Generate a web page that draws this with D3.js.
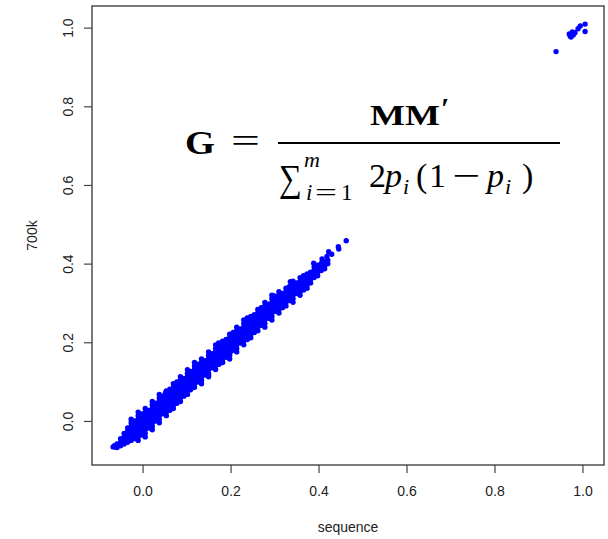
<!DOCTYPE html>
<html><head><meta charset="utf-8">
<script src="https://cdn.jsdelivr.net/npm/d3@7"></script>
<style>
html,body{margin:0;padding:0;background:#fff;}
svg text{font-family:"Liberation Sans",Arial,sans-serif;}
svg .math text{font-family:"Liberation Serif","Times New Roman",serif;fill:#000;}
</style></head>
<body><svg id="chart" width="608" height="539"></svg>
<script>
// ---- data ----
const xTicks = [0.0, 0.2, 0.4, 0.6, 0.8, 1.0];
const yTicks = [0.0, 0.2, 0.4, 0.6, 0.8, 1.0];
const xLabel = "sequence";
const yLabel = "700k";

// dense band of individuals: [sequence, 700k]
const bandPoints = [
[-0.067,-0.066],[-0.063,-0.066],[-0.061,-0.062],
[-0.058,-0.0675],[-0.058,-0.0585],
[-0.050,-0.063],[-0.050,-0.054],[-0.050,-0.045],
[-0.042,-0.0585],[-0.042,-0.0495],[-0.042,-0.0405],[-0.042,-0.0315],
[-0.034,-0.054],[-0.034,-0.045],[-0.034,-0.036],[-0.034,-0.027],[-0.034,-0.018],
[-0.026,-0.0495],[-0.026,-0.0405],[-0.026,-0.0315],[-0.026,-0.0225],[-0.026,-0.0135],[-0.026,-0.0045],
[-0.018,-0.045],[-0.018,-0.036],[-0.018,-0.027],[-0.018,-0.018],[-0.018,-0.009],[-0.018,0.000],
[-0.010,-0.0405],[-0.010,-0.0315],[-0.010,-0.0225],[-0.010,-0.0135],[-0.010,-0.0045],[-0.010,0.0045],[-0.010,0.0135],
[-0.002,-0.036],[-0.002,-0.027],[-0.002,-0.018],[-0.002,-0.009],[-0.002,0.000],[-0.002,0.009],[-0.002,0.018],
[0.006,-0.0315],[0.006,-0.0225],[0.006,-0.0135],[0.006,-0.0045],[0.006,0.0045],[0.006,0.0135],[0.006,0.0225],
[0.014,-0.018],[0.014,-0.009],[0.014,0.000],[0.014,0.009],[0.014,0.018],[0.014,0.027],
[0.022,-0.0135],[0.022,-0.0045],[0.022,0.0045],[0.022,0.0135],[0.022,0.0225],[0.022,0.0315],[0.022,0.0405],
[0.030,0.000],[0.030,0.009],[0.030,0.018],[0.030,0.027],[0.030,0.036],[0.030,0.045],
[0.038,0.0045],[0.038,0.0135],[0.038,0.0225],[0.038,0.0315],[0.038,0.0405],[0.038,0.0495],[0.038,0.0585],
[0.046,0.018],[0.046,0.027],[0.046,0.036],[0.046,0.045],[0.046,0.054],[0.046,0.063],
[0.054,0.0225],[0.054,0.0315],[0.054,0.0405],[0.054,0.0495],[0.054,0.0585],[0.054,0.0675],
[0.062,0.027],[0.062,0.036],[0.062,0.045],[0.062,0.054],[0.062,0.063],[0.062,0.072],[0.062,0.081],
[0.070,0.0405],[0.070,0.0495],[0.070,0.0585],[0.070,0.0675],[0.070,0.0765],[0.070,0.0855],
[0.078,0.045],[0.078,0.054],[0.078,0.063],[0.078,0.072],[0.078,0.081],[0.078,0.090],[0.078,0.099],
[0.086,0.0585],[0.086,0.0675],[0.086,0.0765],[0.086,0.0855],[0.086,0.0945],[0.086,0.1035],
[0.094,0.063],[0.094,0.072],[0.094,0.081],[0.094,0.090],[0.094,0.099],[0.094,0.108],
[0.102,0.0765],[0.102,0.0855],[0.102,0.0945],[0.102,0.1035],[0.102,0.1125],[0.102,0.1215],
[0.110,0.081],[0.110,0.090],[0.110,0.099],[0.110,0.108],[0.110,0.117],[0.110,0.126],
[0.118,0.0945],[0.118,0.1035],[0.118,0.1125],[0.118,0.1215],[0.118,0.1305],[0.118,0.1395],
[0.126,0.099],[0.126,0.108],[0.126,0.117],[0.126,0.126],[0.126,0.135],[0.126,0.144],
[0.134,0.1035],[0.134,0.1125],[0.134,0.1215],[0.134,0.1305],[0.134,0.1395],[0.134,0.1485],
[0.142,0.117],[0.142,0.126],[0.142,0.135],[0.142,0.144],[0.142,0.153],
[0.150,0.1215],[0.150,0.1305],[0.150,0.1395],[0.150,0.1485],[0.150,0.1575],[0.150,0.1665],
[0.158,0.135],[0.158,0.144],[0.158,0.153],[0.158,0.162],[0.158,0.171],
[0.166,0.1395],[0.166,0.1485],[0.166,0.1575],[0.166,0.1665],[0.166,0.1755],[0.166,0.1845],
[0.174,0.144],[0.174,0.153],[0.174,0.162],[0.174,0.171],[0.174,0.180],[0.174,0.189],
[0.182,0.1575],[0.182,0.1665],[0.182,0.1755],[0.182,0.1845],[0.182,0.1935],
[0.190,0.162],[0.190,0.171],[0.190,0.180],[0.190,0.189],[0.190,0.198],[0.190,0.207],
[0.198,0.1665],[0.198,0.1755],[0.198,0.1845],[0.198,0.1935],[0.198,0.2025],[0.198,0.2115],
[0.206,0.180],[0.206,0.189],[0.206,0.198],[0.206,0.207],[0.206,0.216],[0.206,0.225],
[0.214,0.1845],[0.214,0.1935],[0.214,0.2025],[0.214,0.2115],[0.214,0.2205],[0.214,0.2295],
[0.222,0.198],[0.222,0.207],[0.222,0.216],[0.222,0.225],[0.222,0.234],
[0.230,0.2025],[0.230,0.2115],[0.230,0.2205],[0.230,0.2295],[0.230,0.2385],[0.230,0.2475],
[0.238,0.207],[0.238,0.216],[0.238,0.225],[0.238,0.234],[0.238,0.243],[0.238,0.252],
[0.246,0.2205],[0.246,0.2295],[0.246,0.2385],[0.246,0.2475],[0.246,0.2565],
[0.254,0.225],[0.254,0.234],[0.254,0.243],[0.254,0.252],[0.254,0.261],[0.254,0.270],
[0.262,0.2385],[0.262,0.2475],[0.262,0.2565],[0.262,0.2655],[0.262,0.2745],
[0.270,0.243],[0.270,0.252],[0.270,0.261],[0.270,0.270],[0.270,0.279],[0.270,0.288],
[0.278,0.2475],[0.278,0.2565],[0.278,0.2655],[0.278,0.2745],[0.278,0.2835],[0.278,0.2925],
[0.286,0.261],[0.286,0.270],[0.286,0.279],[0.286,0.288],[0.286,0.297],
[0.294,0.2655],[0.294,0.2745],[0.294,0.2835],[0.294,0.2925],[0.294,0.3015],[0.294,0.3105],
[0.302,0.279],[0.302,0.288],[0.302,0.297],[0.302,0.306],[0.302,0.315],
[0.310,0.2835],[0.310,0.2925],[0.310,0.3015],[0.310,0.3105],[0.310,0.3195],
[0.318,0.288],[0.318,0.297],[0.318,0.306],[0.318,0.315],[0.318,0.324],
[0.326,0.3015],[0.326,0.3105],[0.326,0.3195],[0.326,0.3285],
[0.334,0.306],[0.334,0.315],[0.334,0.324],[0.334,0.333],[0.334,0.342],
[0.342,0.3105],[0.342,0.3195],[0.342,0.3285],[0.342,0.3375],[0.342,0.3465],
[0.350,0.324],[0.350,0.333],[0.350,0.342],[0.350,0.351],
[0.358,0.3285],[0.358,0.3375],[0.358,0.3465],[0.358,0.3555],
[0.366,0.333],[0.366,0.342],[0.366,0.351],[0.366,0.360],[0.366,0.369],
[0.374,0.3465],[0.374,0.3555],[0.374,0.3645],[0.374,0.3735],
[0.382,0.351],[0.382,0.360],[0.382,0.369],[0.382,0.378],
[0.390,0.3645],[0.390,0.3735],[0.390,0.3825],[0.390,0.3915],
[0.398,0.369],[0.398,0.378],[0.398,0.387],[0.398,0.396],
[0.406,0.3825],[0.406,0.3915],[0.406,0.4005],
[0.414,0.387],[0.414,0.396],[0.414,0.405],
[0.421,0.3995],[0.421,0.4085]
];
// outer rows of the band (ragged edges)
const bandEdgePoints = [
[-0.026,0.0045],[-0.010,-0.0495],[-0.010,0.0225],[0.006,-0.0405],[0.006,0.0315],
[0.022,-0.0225],[0.022,0.0495],[0.038,-0.0045],[0.038,0.0675],[0.054,0.0135],[0.054,0.0765],
[0.070,0.0315],[0.070,0.0945],[0.086,0.0495],[0.086,0.1125],[0.102,0.0675],[0.102,0.1305],
[0.118,0.0855],[0.118,0.1485],[0.134,0.0945],[0.134,0.1575],[0.150,0.1125],[0.150,0.1755],
[0.166,0.1305],[0.166,0.1935],[0.182,0.1485],[0.182,0.2025],[0.198,0.1575],[0.198,0.2205],
[0.214,0.1755],[0.214,0.2385],[0.230,0.1935],[0.230,0.2565],[0.246,0.2115],[0.246,0.2655],
[0.262,0.2295],[0.262,0.2835],[0.278,0.2385],[0.278,0.3015],[0.294,0.2565],[0.294,0.3195],
[0.310,0.2745],[0.310,0.3285],[0.326,0.2925],[0.326,0.3375],[0.342,0.3015],[0.342,0.3555],
[0.358,0.3195],[0.358,0.3645],[0.374,0.3375]
];
// scattered points off the band edges and the sparse upper tail
const edgePoints = [
[0.108,0.079],[0.173,0.198],[0.336,0.354],[0.300,0.318],[0.052,0.071],
[0.238,0.262],[0.150,0.116],[0.200,0.176],[0.389,0.401],[0.408,0.412],
[-0.064,-0.063],[-0.060,-0.066],[-0.055,-0.061]
];
const tailPoints = [
[0.419,0.418],[0.423,0.430],[0.430,0.424],[0.445,0.443],[0.446,0.437],[0.463,0.458]
];
// small group of related individuals near 1
const clusterPoints = [
[0.940,0.939],[0.970,0.984],[0.972,0.979],[0.974,0.976],[0.977,0.989],[0.979,0.981],
[0.983,0.987],[0.990,0.997],[0.995,1.004],[1.006,1.009],[1.006,0.990]
];

// ---- layout ----
const svg = d3.select("#chart");
const mLeft = 92, mRight = 604, mTop = 6, mBottom = 465;
const x = d3.scaleLinear().domain([-0.115, 1.049]).range([mLeft, mRight]);
const y = d3.scaleLinear().domain([-0.112, 1.055]).range([mBottom, mTop]);
const fmt = d3.format(".1f");
const axisColor = "#333";

// points
const allPoints = bandPoints.concat(bandEdgePoints, edgePoints, tailPoints, clusterPoints);
svg.append("g").selectAll("circle").data(allPoints).join("circle")
  .attr("cx", d => x(d[0])).attr("cy", d => y(d[1]))
  .attr("r", 2.7).attr("fill", "#0000ff");

// box
svg.append("rect").attr("x", mLeft).attr("y", mTop)
  .attr("width", mRight - mLeft).attr("height", mBottom - mTop)
  .attr("fill", "none").attr("stroke", axisColor).attr("stroke-width", 1.3);

// x axis
const xAxis = d3.axisBottom(x).tickValues(xTicks).tickFormat(fmt).tickSize(8).tickPadding(13);
const gx = svg.append("g").attr("transform", `translate(0,${mBottom})`).call(xAxis);
gx.select(".domain").remove();
gx.selectAll(".tick line").attr("stroke", "#444").attr("stroke-width", 1.2);
gx.selectAll(".tick text").attr("fill", "#222").attr("font-size", 14)
  .attr("font-family", "Liberation Sans, Arial, sans-serif");

// y axis
const yAxis = d3.axisLeft(y).tickValues(yTicks).tickFormat(fmt).tickSize(8).tickPadding(12);
const gy = svg.append("g").attr("transform", `translate(${mLeft},0)`).call(yAxis);
gy.select(".domain").remove();
gy.selectAll(".tick line").attr("stroke", "#444").attr("stroke-width", 1.2);
gy.selectAll(".tick text").attr("fill", "#222").attr("font-size", 14)
  .attr("font-family", "Liberation Sans, Arial, sans-serif")
  .attr("text-anchor", "middle").attr("x", 0).attr("y", 0).attr("dy", "0")
  .attr("transform", "translate(-19,0) rotate(-90)");

// axis titles
svg.append("text").attr("x", (mLeft + mRight) / 2).attr("y", 532)
  .attr("text-anchor", "middle").attr("font-size", 14).attr("fill", "#222").text(xLabel);
svg.append("text").attr("transform", `translate(37,${(mTop + mBottom) / 2}) rotate(-90)`)
  .attr("text-anchor", "middle").attr("font-size", 14).attr("fill", "#222").text(yLabel);

// ---- formula ----
const fm = svg.append("g").attr("class", "math");
function piece(txt, px, py, size, opts = {}) {
  const t = fm.append("text").attr("x", px).attr("y", py).attr("font-size", size).text(txt);
  if (opts.bold) t.attr("font-weight", "bold");
  if (opts.italic) t.attr("font-style", "italic");
  if (opts.len) t.attr("textLength", opts.len).attr("lengthAdjust", "spacingAndGlyphs");
  return t;
}
piece("G", 185, 154, 33, {bold: true, len: 30});
piece("=", 231, 152, 33, {len: 29});
fm.append("line").attr("x1", 278).attr("x2", 560).attr("y1", 143).attr("y2", 143)
  .attr("stroke", "#000").attr("stroke-width", 2);
piece("MM", 370, 125, 30, {bold: true, len: 70});
piece("′", 441, 118, 30, {bold: true});
piece("∑", 279, 191, 38, {len: 23});
piece("m", 304, 167, 22, {italic: true});
piece("i", 306, 200, 23, {italic: true});
piece("=", 315, 200, 23, {len: 22});
piece("1", 341, 200, 23);
piece("2", 369, 187, 34);
piece("p", 385, 187, 34, {italic: true});
piece("i", 403, 194, 22, {italic: true});
piece("(", 416, 187, 34);
piece("1", 429, 187, 34);
piece("−", 452, 187, 34, {len: 28});
piece("p", 487, 187, 34, {italic: true});
piece("i", 505, 194, 22, {italic: true});
piece(")", 522, 187, 34);
</script></body></html>
